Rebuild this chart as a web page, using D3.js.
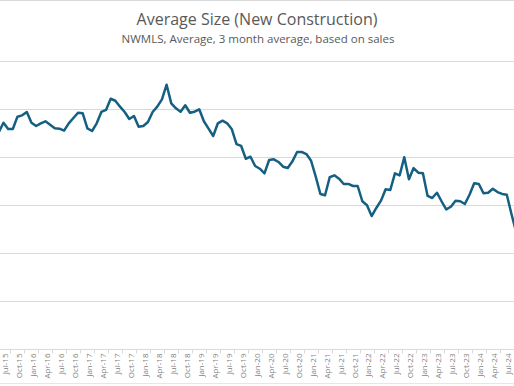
<!DOCTYPE html>
<html>
  <head>
    <script src="https://cdn.jsdelivr.net/npm/d3@7"></script>
    <style>
      body { margin: 0; background: #ffffff; }
      text { font-family: "Open Sans", "Liberation Sans", sans-serif; }
    </style>
  </head>
  <body>
    <svg id="chart" width="514" height="386"></svg>
    <script>
      // monthly 3-month average size (sq ft), Jun-15 .. Sep-24
      var firstMonth = new Date(2015, 5, 1);
      var avgSize = [
        2260, 2357, 2292, 2292, 2420, 2434, 2469, 2357, 2323, 2351, 2372, 2336,
        2299, 2295, 2274, 2351, 2406, 2461, 2455, 2299, 2271, 2351, 2469, 2490,
        2607, 2586, 2524, 2469, 2396, 2427, 2316, 2323, 2365, 2469, 2524, 2601,
        2753, 2559, 2507, 2472, 2539, 2461, 2472, 2497, 2372, 2295, 2219, 2351,
        2378, 2351, 2289, 2135, 2115, 1982, 2003, 1906, 1878, 1830, 1969, 1976,
        1948, 1899, 1885, 1955, 2052, 2052, 2031, 1961, 1795, 1615, 1601, 1789,
        1809, 1774, 1719, 1719, 1698, 1698, 1539, 1497, 1385, 1469, 1545, 1664,
        1656, 1830, 1809, 1997, 1768, 1885, 1836, 1830, 1594, 1573, 1628, 1539,
        1455, 1482, 1545, 1539, 1510, 1607, 1726, 1719, 1622, 1628, 1670, 1635,
        1615, 1607, 1406, 1219
      ];
      var yTicks = [0, 500, 1000, 1500, 2000, 2500, 3000];
      var title = "Average Size (New Construction)";
      var subtitle = "NWMLS, Average, 3 month average, based on sales";

      var months = d3.timeMonth.range(firstMonth, d3.timeMonth.offset(firstMonth, avgSize.length));
      var data = months.map((m, i) => ({ date: m, value: avgSize[i] }));
      var fmt = d3.timeFormat("%b-%y");

      var svg = d3.select("#chart");
      var W = 514, H = 386;

      // month index -> x, Jul-15 sits near the left edge (chart is cropped)
      var xScale = d3.scaleLinear().domain([1, 109]).range([3.5, 506.8]);
      var yScale = d3.scaleLinear().domain([0, 3000]).range([349, 61]);

      svg.append("line")
        .attr("x1", 0).attr("x2", W).attr("y1", 0.5).attr("y2", 0.5)
        .style("stroke", "#d9d9d9");

      svg.append("text")
        .attr("x", 257).attr("y", 25)
        .attr("text-anchor", "middle")
        .style("font-size", "16px")
        .style("fill", "#595959")
        .text(title);

      svg.append("text")
        .attr("x", 258).attr("y", 43)
        .attr("text-anchor", "middle")
        .style("font-size", "11.5px")
        .style("fill", "#595959")
        .text(subtitle);

      // gridlines
      svg.append("g")
        .selectAll("line")
        .data(yTicks.filter((t) => t > 0))
        .enter()
        .append("line")
        .attr("x1", 0).attr("x2", W)
        .attr("y1", (d) => Math.round(yScale(d)) + 0.5)
        .attr("y2", (d) => Math.round(yScale(d)) + 0.5)
        .style("stroke", "#d9d9d9")
        .style("stroke-width", "1px");

      // category axis
      var axisY = Math.round(yScale(0)) + 0.5;
      svg.append("line")
        .attr("x1", 0).attr("x2", W).attr("y1", axisY).attr("y2", axisY)
        .style("stroke", "#d9d9d9");

      var labeled = data.map((d, i) => ({ d: d, i: i })).filter((o) => o.d.date.getMonth() % 3 === 0);

      svg.append("g")
        .selectAll("line")
        .data(labeled)
        .enter()
        .append("line")
        .attr("x1", (o) => Math.round(xScale(o.i + 1.5)) + 0.5)
        .attr("x2", (o) => Math.round(xScale(o.i + 1.5)) + 0.5)
        .attr("y1", axisY).attr("y2", axisY + 4)
        .style("stroke", "#d9d9d9");

      svg.append("g")
        .selectAll("text")
        .data(labeled)
        .enter()
        .append("text")
        .attr("transform", (o) => "translate(" + (xScale(o.i) + 4.5) + "," + (axisY + 4) + ") rotate(-90)")
        .attr("text-anchor", "end")
        .style("font-size", "8px")
        .style("fill", "#7f7f7f")
        .text((o) => fmt(o.d.date));

      // series
      var line = d3.line()
        .x((d, i) => xScale(i))
        .y((d) => yScale(d.value));

      svg.append("path")
        .datum(data)
        .attr("d", line)
        .style("fill", "none")
        .style("stroke", "#156082")
        .style("stroke-width", "2.5px")
        .style("stroke-linejoin", "round");

      svg.append("line")
        .attr("x1", 0).attr("x2", W).attr("y1", H - 2.5).attr("y2", H - 2.5)
        .style("stroke", "#e6e6e6");
    </script>
  </body>
</html>
